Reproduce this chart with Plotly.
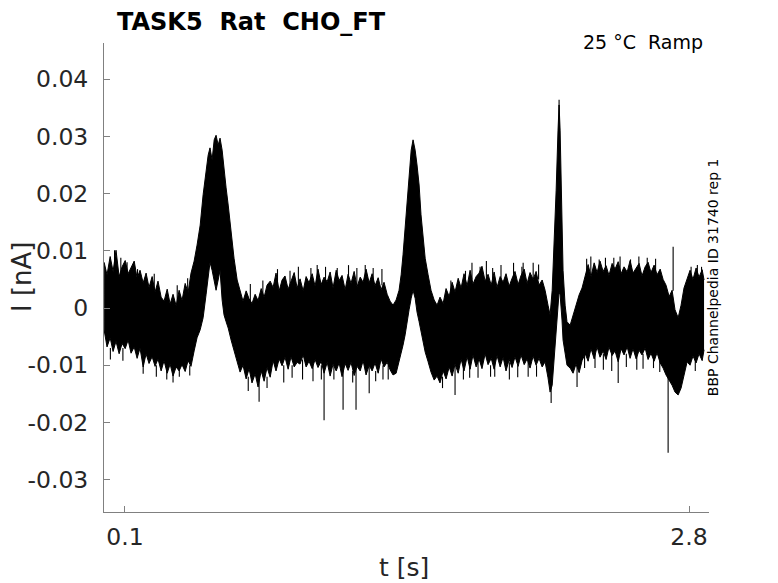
"""Whole-cell current trace (TASK5, rat, CHO_FT) recreated with Plotly."""

import plotly.graph_objects as go

# Time points of the trace envelope (s)
t = [
    0.000, 0.014, 0.029, 0.043, 0.057, 0.072, 0.086, 0.101, 0.115, 0.129,
    0.144, 0.158, 0.172, 0.187, 0.201, 0.215, 0.230, 0.244, 0.258, 0.273,
    0.287, 0.302, 0.316, 0.330, 0.345, 0.359, 0.373, 0.388, 0.402, 0.416,
    0.431, 0.445, 0.460, 0.474, 0.488, 0.498, 0.507, 0.517, 0.527, 0.536,
    0.546, 0.555, 0.565, 0.574, 0.584, 0.594, 0.608, 0.622, 0.637, 0.651,
    0.665, 0.680, 0.694, 0.708, 0.723, 0.737, 0.752, 0.766, 0.780, 0.795,
    0.809, 0.823, 0.838, 0.852, 0.866, 0.881, 0.895, 0.910, 0.924, 0.938,
    0.953, 0.967, 0.981, 0.996, 1.010, 1.024, 1.039, 1.053, 1.068, 1.082,
    1.096, 1.111, 1.125, 1.139, 1.154, 1.168, 1.182, 1.197, 1.211, 1.226,
    1.240, 1.254, 1.269, 1.283, 1.297, 1.312, 1.326, 1.340, 1.355, 1.369,
    1.383, 1.398, 1.412, 1.422, 1.431, 1.441, 1.450, 1.460, 1.470, 1.479,
    1.489, 1.498, 1.508, 1.517, 1.527, 1.537, 1.551, 1.565, 1.580, 1.594,
    1.608, 1.623, 1.637, 1.652, 1.666, 1.680, 1.695, 1.709, 1.723, 1.738,
    1.752, 1.766, 1.781, 1.795, 1.809, 1.824, 1.838, 1.853, 1.867, 1.881,
    1.896, 1.910, 1.924, 1.939, 1.953, 1.967, 1.982, 1.996, 2.011, 2.025,
    2.039, 2.054, 2.068, 2.082, 2.097, 2.111, 2.125, 2.135, 2.145, 2.154,
    2.164, 2.173, 2.178, 2.183, 2.188, 2.192, 2.197, 2.207, 2.216, 2.231,
    2.245, 2.259, 2.274, 2.288, 2.303, 2.317, 2.331, 2.346, 2.360, 2.374,
    2.389, 2.403, 2.417, 2.432, 2.446, 2.461, 2.475, 2.489, 2.504, 2.518,
    2.532, 2.547, 2.561, 2.575, 2.590, 2.604, 2.618, 2.633, 2.647, 2.662,
    2.676, 2.690, 2.705, 2.719, 2.733, 2.748, 2.762, 2.776, 2.791, 2.805,
    2.819, 2.834, 2.848, 2.863, 2.872,
]

# Upper edge of the noisy current band (nA)
i_upper = [
    0.0080, 0.0058, 0.0090, 0.0064, 0.0101, 0.0055, 0.0072, 0.0083, 0.0060, 0.0071,
    0.0082, 0.0052, 0.0066, 0.0044, 0.0061, 0.0036, 0.0055, 0.0028, 0.0047, 0.0019,
    0.0012, 0.0033, 0.0007, 0.0024, 0.0004, 0.0031, 0.0013, 0.0043, 0.0027, 0.0061,
    0.0082, 0.0110, 0.0145, 0.0198, 0.0245, 0.0267, 0.0280, 0.0259, 0.0294, 0.0302,
    0.0285, 0.0297, 0.0276, 0.0241, 0.0210, 0.0180, 0.0128, 0.0087, 0.0049, 0.0028,
    0.0012, 0.0030, 0.0016, 0.0008, 0.0024, 0.0013, 0.0034, 0.0019, 0.0040, 0.0047,
    0.0036, 0.0061, 0.0030, 0.0049, 0.0056, 0.0033, 0.0047, 0.0062, 0.0035, 0.0051,
    0.0030, 0.0055, 0.0044, 0.0060, 0.0038, 0.0068, 0.0041, 0.0054, 0.0046, 0.0063,
    0.0035, 0.0066, 0.0048, 0.0057, 0.0032, 0.0059, 0.0043, 0.0064, 0.0037, 0.0054,
    0.0045, 0.0068, 0.0044, 0.0060, 0.0039, 0.0053, 0.0032, 0.0045, 0.0024, 0.0012,
    0.0005, 0.0014, 0.0031, 0.0058, 0.0093, 0.0136, 0.0180, 0.0233, 0.0276, 0.0294,
    0.0276, 0.0250, 0.0215, 0.0163, 0.0119, 0.0087, 0.0058, 0.0031, 0.0014, 0.0005,
    0.0019, 0.0008, 0.0034, 0.0020, 0.0045, 0.0028, 0.0052, 0.0035, 0.0060, 0.0039,
    0.0066, 0.0042, 0.0055, 0.0061, 0.0073, 0.0047, 0.0059, 0.0040, 0.0063, 0.0036,
    0.0055, 0.0045, 0.0060, 0.0038, 0.0052, 0.0064, 0.0041, 0.0057, 0.0068, 0.0043,
    0.0062, 0.0050, 0.0064, 0.0040, 0.0049, 0.0031, 0.0005, -0.0012, 0.0031, 0.0110,
    0.0206, 0.0311, 0.0355, 0.0311, 0.0224, 0.0145, 0.0066, 0.0005, -0.0024, -0.0030,
    -0.0012, 0.0005, 0.0023, 0.0035, 0.0058, 0.0076, 0.0055, 0.0079, 0.0062, 0.0082,
    0.0064, 0.0074, 0.0057, 0.0078, 0.0068, 0.0081, 0.0060, 0.0072, 0.0063, 0.0083,
    0.0061, 0.0070, 0.0078, 0.0056, 0.0072, 0.0080, 0.0062, 0.0075, 0.0058, 0.0068,
    0.0050, 0.0040, 0.0020, 0.0031, -0.0003, -0.0017, 0.0005, 0.0035, 0.0052, 0.0066,
    0.0050, 0.0070, 0.0054, 0.0067, 0.0049,
]

# Lower edge of the noisy current band (nA)
i_lower = [
    -0.0038, -0.0068, -0.0052, -0.0076, -0.0058, -0.0080, -0.0062, -0.0071, -0.0056, -0.0079,
    -0.0068, -0.0088, -0.0070, -0.0103, -0.0080, -0.0097, -0.0085, -0.0102, -0.0089, -0.0110,
    -0.0092, -0.0114, -0.0098, -0.0119, -0.0103, -0.0110, -0.0099, -0.0111, -0.0092, -0.0102,
    -0.0075, -0.0052, -0.0038, -0.0017, 0.0023, 0.0058, 0.0080, 0.0066, 0.0045, 0.0031,
    0.0049, 0.0066, 0.0014, -0.0012, -0.0024, -0.0035, -0.0056, -0.0077, -0.0094, -0.0112,
    -0.0100, -0.0124, -0.0106, -0.0131, -0.0115, -0.0138, -0.0110, -0.0128, -0.0104, -0.0121,
    -0.0092, -0.0110, -0.0089, -0.0101, -0.0086, -0.0107, -0.0085, -0.0103, -0.0095, -0.0098,
    -0.0082, -0.0103, -0.0093, -0.0106, -0.0090, -0.0104, -0.0093, -0.0114, -0.0095, -0.0119,
    -0.0098, -0.0110, -0.0096, -0.0120, -0.0097, -0.0109, -0.0095, -0.0118, -0.0102, -0.0110,
    -0.0092, -0.0117, -0.0100, -0.0110, -0.0096, -0.0114, -0.0089, -0.0103, -0.0095, -0.0108,
    -0.0117, -0.0114, -0.0094, -0.0077, -0.0065, -0.0047, -0.0024, -0.0003, 0.0017, 0.0031,
    0.0017, -0.0007, -0.0024, -0.0042, -0.0059, -0.0077, -0.0094, -0.0112, -0.0126, -0.0119,
    -0.0131, -0.0110, -0.0124, -0.0103, -0.0119, -0.0098, -0.0114, -0.0089, -0.0110, -0.0085,
    -0.0107, -0.0082, -0.0103, -0.0089, -0.0106, -0.0080, -0.0099, -0.0088, -0.0107, -0.0083,
    -0.0103, -0.0086, -0.0110, -0.0090, -0.0104, -0.0085, -0.0102, -0.0082, -0.0099, -0.0089,
    -0.0105, -0.0084, -0.0100, -0.0088, -0.0103, -0.0094, -0.0122, -0.0147, -0.0135, -0.0091,
    -0.0038, 0.0014, 0.0028, 0.0023, 0.0005, -0.0021, -0.0056, -0.0082, -0.0100, -0.0105,
    -0.0114, -0.0098, -0.0113, -0.0092, -0.0080, -0.0093, -0.0071, -0.0089, -0.0068, -0.0086,
    -0.0075, -0.0090, -0.0068, -0.0083, -0.0075, -0.0094, -0.0071, -0.0082, -0.0068, -0.0088,
    -0.0071, -0.0089, -0.0074, -0.0082, -0.0070, -0.0090, -0.0079, -0.0093, -0.0078, -0.0096,
    -0.0105, -0.0117, -0.0126, -0.0135, -0.0147, -0.0152, -0.0140, -0.0117, -0.0094, -0.0100,
    -0.0084, -0.0096, -0.0080, -0.0092, -0.0073,
]

# Single-sample spikes sticking out of the band: time, low end, high end
spike_t = [
    0.742, 1.053, 1.144, 1.206, 1.269, 1.680, 2.140, 2.264, 2.700, 2.724,
    1.116, 1.288, 1.761, 2.006, 2.054, 2.178,
    0.050, 0.110, 0.930, 1.020, 1.170, 1.330, 1.830, 1.900, 1.960,
    2.330, 2.400, 2.470, 2.520, 2.600, 2.840,
    0.187, 0.300, 0.360, 0.860, 0.950, 1.000, 1.100, 1.335,
    1.720, 1.790, 1.870, 1.940, 2.030, 2.350, 2.430, 2.461, 2.550, 2.630,
    0.080, 0.160, 0.240, 0.350, 0.400, 0.700, 0.760, 0.830, 0.890, 0.990,
    1.060, 1.210, 1.250, 1.660, 1.730, 1.800, 1.860, 2.000, 2.080, 2.310,
    2.370, 2.440, 2.560, 2.640, 2.810, 2.860,
    0.030, 0.090, 0.250, 0.330, 0.410, 0.690, 0.780, 0.900, 1.040, 1.190,
    1.300, 1.360, 1.620, 1.750, 1.850, 1.980, 2.070, 2.300, 2.390, 2.500,
    2.580, 2.660, 2.830,
]
spike_lo = [
    -0.0164, -0.0196, -0.0178, -0.0178, -0.0149, -0.0152, -0.0166, -0.0138, -0.0253, 0.0030,
    0.0045, 0.0045, 0.0050, 0.0050, 0.0050, 0.0300,
    0.0060, 0.0060, 0.0040, 0.0040, 0.0045, 0.0040, 0.0050, 0.0050, 0.0050,
    0.0060, 0.0060, 0.0060, 0.0060, 0.0060, 0.0050,
    -0.0115, -0.0125, -0.0120, -0.0130, -0.0125, -0.0128, -0.0125, -0.0125,
    -0.0125, -0.0122, -0.0120, -0.0125, -0.0120, -0.0105, -0.0110, -0.0131, -0.0108, -0.0105,
    0.0060, 0.0040, 0.0030, 0.0000, 0.0020, 0.0010, 0.0020, 0.0040, 0.0040, 0.0040,
    0.0040, 0.0040, 0.0050, 0.0020, 0.0040, 0.0050, 0.0050, 0.0050, 0.0050, 0.0060,
    0.0060, 0.0060, 0.0060, 0.0060, 0.0050, 0.0050,
    -0.0090, -0.0092, -0.0120, -0.0130, -0.0118, -0.0145, -0.0140, -0.0122, -0.0125, -0.0130,
    -0.0128, -0.0125, -0.0140, -0.0122, -0.0120, -0.0121, -0.0120, -0.0105, -0.0108, -0.0103,
    -0.0106, -0.0112, -0.0110,
]
spike_hi = [
    -0.0120, -0.0100, -0.0100, -0.0100, -0.0100, -0.0100, -0.0130, -0.0100, -0.0110, 0.0107,
    0.0070, 0.0070, 0.0079, 0.0079, 0.0079, 0.0364,
    0.0101, 0.0080, 0.0072, 0.0075, 0.0075, 0.0068, 0.0082, 0.0075, 0.0079,
    0.0090, 0.0088, 0.0090, 0.0085, 0.0088, 0.0075,
    -0.0090, -0.0100, -0.0100, -0.0100, -0.0090, -0.0100, -0.0100, -0.0100,
    -0.0100, -0.0090, -0.0090, -0.0095, -0.0090, -0.0080, -0.0080, -0.0080, -0.0080, -0.0080,
    0.0088, 0.0068, 0.0060, 0.0040, 0.0052, 0.0042, 0.0048, 0.0068, 0.0065, 0.0070,
    0.0072, 0.0070, 0.0075, 0.0048, 0.0065, 0.0072, 0.0070, 0.0072, 0.0076, 0.0086,
    0.0085, 0.0088, 0.0090, 0.0086, 0.0072, 0.0072,
    -0.0070, -0.0070, -0.0100, -0.0110, -0.0100, -0.0120, -0.0120, -0.0100, -0.0100, -0.0110,
    -0.0110, -0.0100, -0.0120, -0.0100, -0.0100, -0.0100, -0.0100, -0.0080, -0.0080, -0.0080,
    -0.0080, -0.0090, -0.0090,
]

x_ticks = [0.1, 2.8]
x_labels = ['0.1', '2.8']
y_ticks = [0.04, 0.03, 0.02, 0.01, 0, -0.01, -0.02, -0.03]
y_labels = ['0.04', '0.03', '0.02', '0.01', '0', '-0.01', '-0.02', '-0.03']

FONT = 'DejaVu Sans'
AXIS_GREY = '#808080'

fig = go.Figure()

# Band between lower and upper edges
fig.add_trace(go.Scatter(
    x=t, y=i_lower, mode='lines',
    line=dict(color='black', width=1),
    showlegend=False, hoverinfo='skip',
))
fig.add_trace(go.Scatter(
    x=t, y=i_upper, mode='lines',
    line=dict(color='black', width=1),
    fill='tonexty', fillcolor='black',
    showlegend=False, hoverinfo='skip',
))

# Spikes as vertical segments
sx, sy = [], []
for ts, lo, hi in zip(spike_t, spike_lo, spike_hi):
    sx += [ts, ts, None]
    sy += [lo, hi, None]
fig.add_trace(go.Scatter(
    x=sx, y=sy, mode='lines',
    line=dict(color='black', width=1.1),
    showlegend=False, hoverinfo='skip',
))

# The page body adds an 8 px margin, so the figure is 8 px smaller than the window
fig.update_layout(
    width=770, height=575,
    margin=dict(l=96, r=69, t=35, b=71),
    paper_bgcolor='white', plot_bgcolor='white',
    font=dict(family=FONT, color='#262626'),
    xaxis=dict(
        range=[-0.0005, 2.8957],
        showgrid=False, zeroline=False,
        showline=True, linecolor=AXIS_GREY, linewidth=1,
        ticks='inside', ticklen=6, tickcolor=AXIS_GREY,
        tickvals=x_ticks, ticktext=x_labels,
        tickfont=dict(size=23.5, color='#262626'),
        ticklabelstandoff=4,
    ),
    yaxis=dict(
        range=[-0.03566, 0.04633],
        showgrid=False, zeroline=False,
        showline=True, linecolor=AXIS_GREY, linewidth=1,
        ticks='inside', ticklen=6, tickcolor=AXIS_GREY,
        tickvals=y_ticks, ticktext=y_labels,
        tickfont=dict(size=23.5, color='#262626'),
        ticklabelstandoff=10,
    ),
    annotations=[
        dict(text='<b>TASK5\u00a0\u00a0Rat\u00a0\u00a0CHO_FT</b>', xref='paper', yref='paper',
             x=0.018, y=1.0445, xanchor='left', yanchor='middle', showarrow=False,
             font=dict(size=24, color='black', family=FONT)),
        dict(text='25 °C\u00a0\u00a0Ramp', xref='paper', yref='paper',
             x=0.993, y=1.003, xanchor='right', yanchor='middle', showarrow=False,
             font=dict(size=19, color='black', family=FONT)),
        dict(text='BBP Channelpedia ID 31740 rep 1', xref='paper', yref='paper',
             x=1.006, y=0.5, xanchor='center', yanchor='middle', textangle=-90,
             showarrow=False, font=dict(size=14, color='black', family=FONT)),
        dict(text='t [s]', xref='paper', yref='paper',
             x=0.496, y=-0.119, xanchor='center', yanchor='middle', showarrow=False,
             font=dict(size=25, color='#262626', family=FONT)),
        dict(text='I [nA]', xref='paper', yref='paper',
             x=-0.1355, y=0.501, xanchor='center', yanchor='middle', textangle=-90,
             showarrow=False, font=dict(size=26, color='#262626', family=FONT)),
    ],
)

fig.write_html('out.html')
